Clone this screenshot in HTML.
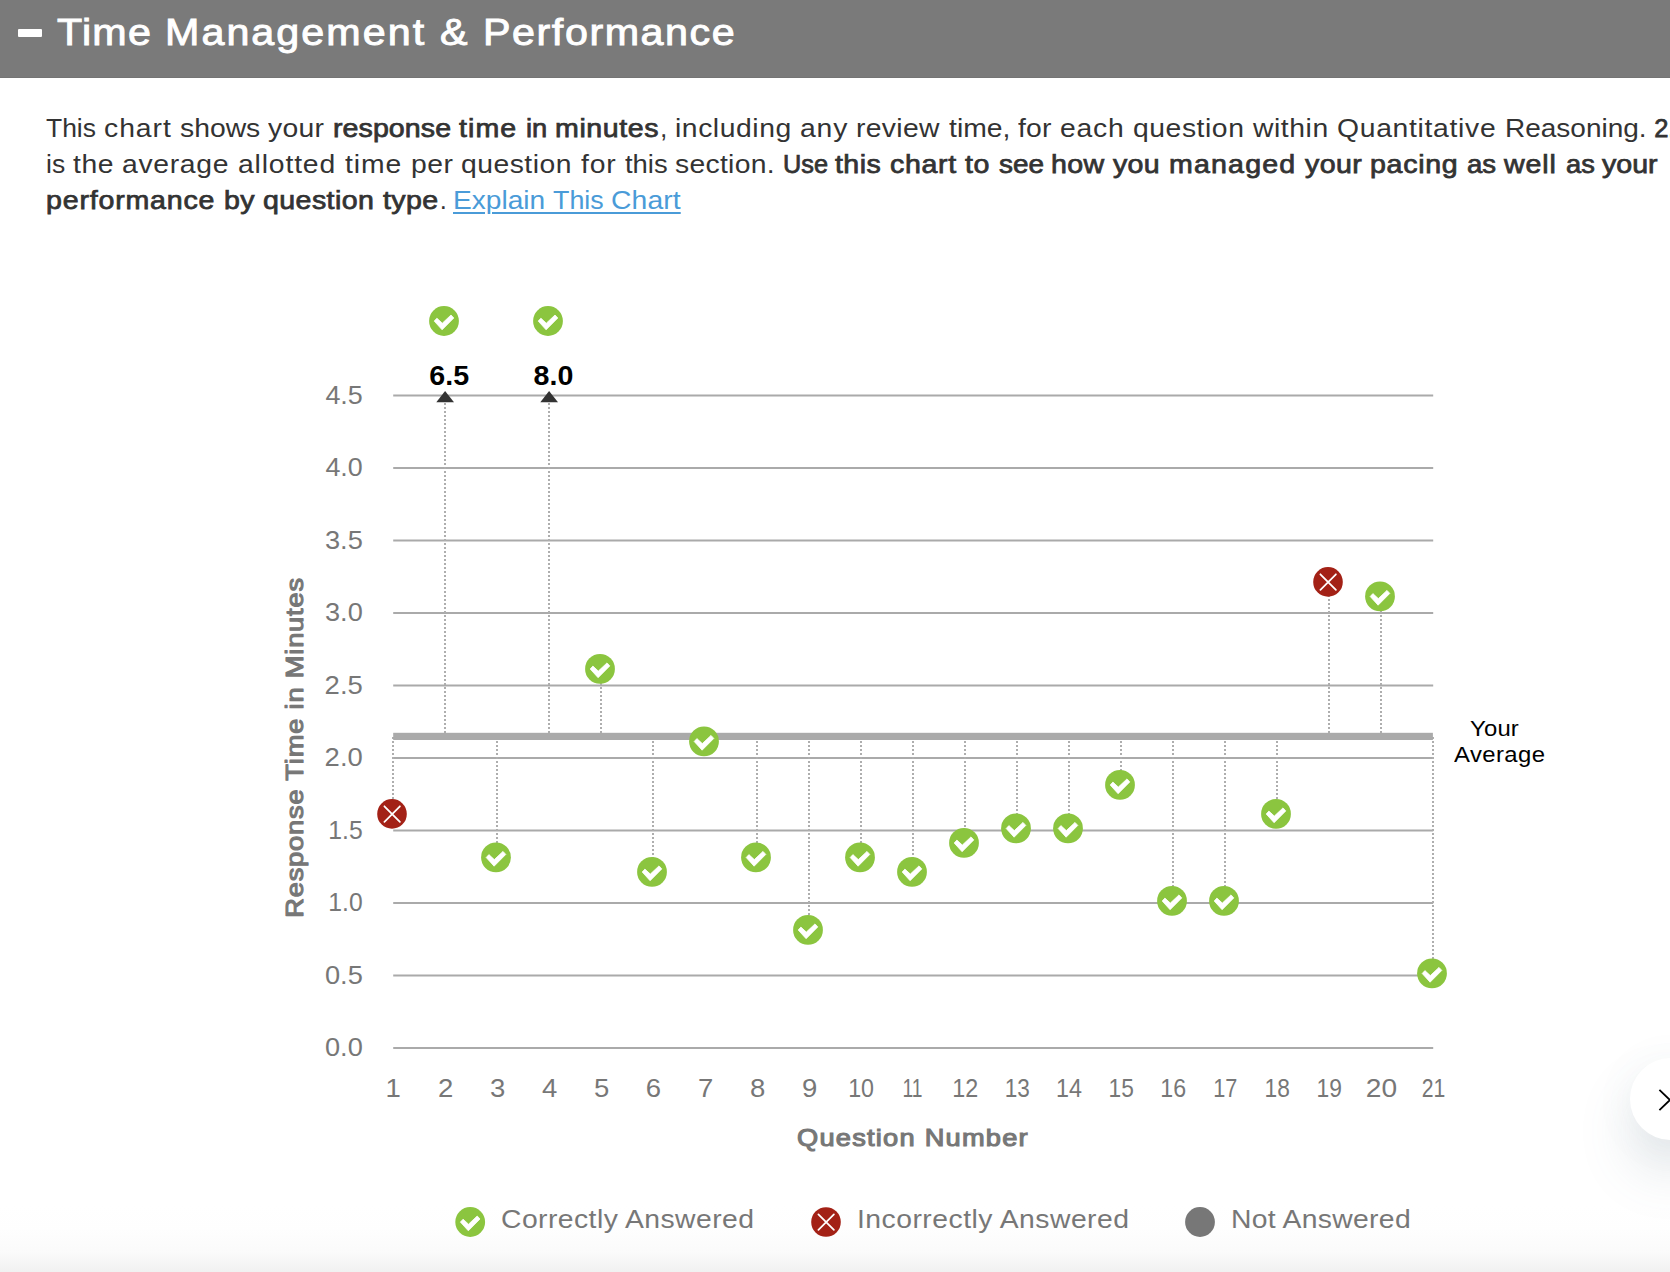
<!DOCTYPE html>
<html lang="en"><head><meta charset="utf-8"><title>Time Management &amp; Performance</title>
<style>
html,body{margin:0;padding:0;}
html{overflow:hidden;background:#fff;}
body{width:1670px;height:1272px;overflow:hidden;position:relative;background:#fff;font-family:"Liberation Sans",sans-serif;}
.hdr{position:absolute;left:0;top:0;width:1670px;height:78px;box-sizing:border-box;border-bottom:1px solid #747474;background:#7a7a7a;}
.minus{position:absolute;left:18px;top:29px;width:24px;height:8px;background:#fff;border-radius:1px;}
.t{position:absolute;white-space:pre;line-height:1;margin:0;transform-origin:0 0;font-weight:400;}
h1,p{margin:0;font-weight:400;}
.ti{font-size:36.5px;color:#fff;-webkit-text-stroke:0.9px #fff;}
.pw{font-size:25.5px;color:#333;}
.sb{-webkit-text-stroke:0.75px #333;}
.lk{color:#4a9bd8;text-decoration:underline;text-decoration-thickness:2px;text-underline-offset:3px;}
.lg{font-size:25.5px;color:#777;}
.fade{position:absolute;left:0;top:1204px;width:1670px;height:68px;background:linear-gradient(to bottom,rgba(241,241,241,0) 0%,rgba(241,241,241,0.06) 35%,rgba(241,241,241,0.32) 72%,rgba(241,241,241,1) 100%);}
.fab{position:absolute;left:1630px;top:1058px;width:82px;height:82px;border-radius:50%;background:#fff;box-shadow:0 32px 54px rgba(90,112,128,0.17),0 4px 44px rgba(90,112,128,0.06);}
svg{position:absolute;left:0;top:0;}
svg text{font-family:"Liberation Sans",sans-serif;}
</style></head><body>
<div class="fade"></div>
<div class="fab"></div>
<div class="hdr"><div class="minus"></div></div>
<h1><span class="t ti" style="left:57.3px;top:14.6px;letter-spacing:1.1px;transform:scaleX(1.1300);">Time </span><span class="t ti" style="left:165.1px;top:14.6px;letter-spacing:1.81px;transform:scaleX(1.1300);">Management </span><span class="t ti" style="left:439.8px;top:14.6px;letter-spacing:1.82px;transform:scaleX(1.1300);">&amp; </span><span class="t ti" style="left:482.9px;top:14.6px;letter-spacing:1.38px;transform:scaleX(1.1300);">Performance</span></h1>
<p><span class="t pw" style="left:46.3px;top:116.11px;transform:scaleX(1.0368);">This </span><span class="t pw" style="left:103.6px;top:116.11px;letter-spacing:0.89px;transform:scaleX(1.1100);">chart </span><span class="t pw" style="left:180.3px;top:116.11px;transform:scaleX(1.1099);">shows </span><span class="t pw" style="left:268.4px;top:116.11px;letter-spacing:0.26px;transform:scaleX(1.1100);">your </span><b class="t pw sb" style="left:332.8px;top:116.11px;letter-spacing:0.07px;transform:scaleX(1.1200);">response </b><b class="t pw sb" style="left:458.9px;top:116.11px;letter-spacing:0.95px;transform:scaleX(1.1200);">time </b><b class="t pw sb" style="left:526.1px;top:116.11px;transform:scaleX(1.0691);">in </b><b class="t pw sb" style="left:554.9px;top:116.11px;letter-spacing:0.53px;transform:scaleX(1.1200);">minutes</b><span class="t pw" style="left:659.8px;top:116.11px;transform:scaleX(1.0373);">, </span><span class="t pw" style="left:674.5px;top:116.11px;letter-spacing:0.5px;transform:scaleX(1.1100);">including </span><span class="t pw" style="left:799.6px;top:116.11px;letter-spacing:0.74px;transform:scaleX(1.1100);">any </span><span class="t pw" style="left:856.4px;top:116.11px;letter-spacing:0.31px;transform:scaleX(1.1100);">review </span><span class="t pw" style="left:948.5px;top:116.11px;letter-spacing:0.03px;transform:scaleX(1.1100);">time, </span><span class="t pw" style="left:1017.9px;top:116.11px;letter-spacing:0.23px;transform:scaleX(1.1100);">for </span><span class="t pw" style="left:1059.8px;top:116.11px;letter-spacing:0.71px;transform:scaleX(1.1100);">each </span><span class="t pw" style="left:1133px;top:116.11px;letter-spacing:0.5px;transform:scaleX(1.1100);">question </span><span class="t pw" style="left:1252.9px;top:116.11px;letter-spacing:0.5px;transform:scaleX(1.1100);">within </span><span class="t pw" style="left:1337px;top:116.11px;letter-spacing:0.62px;transform:scaleX(1.1100);">Quantitative </span><span class="t pw" style="left:1504.8px;top:116.11px;transform:scaleX(1.0978);">Reasoning. </span><b class="t pw sb" style="left:1654.2px;top:116.11px;">2.1</b><b class="t pw sb" style="left:1699.2px;top:116.11px;">minutes</b><span class="t pw" style="left:46.3px;top:151.81px;transform:scaleX(1.0392);">is </span><span class="t pw" style="left:72.8px;top:151.81px;letter-spacing:0.49px;transform:scaleX(1.1100);">the </span><span class="t pw" style="left:122.2px;top:151.81px;letter-spacing:0.63px;transform:scaleX(1.1100);">average </span><span class="t pw" style="left:238px;top:151.81px;letter-spacing:0.76px;transform:scaleX(1.1100);">allotted </span><span class="t pw" style="left:344.7px;top:151.81px;letter-spacing:0.84px;transform:scaleX(1.1100);">time </span><span class="t pw" style="left:410.7px;top:151.81px;letter-spacing:0.41px;transform:scaleX(1.1100);">per </span><span class="t pw" style="left:461.3px;top:151.81px;letter-spacing:0.44px;transform:scaleX(1.1100);">question </span><span class="t pw" style="left:580.6px;top:151.81px;letter-spacing:0.77px;transform:scaleX(1.1100);">for </span><span class="t pw" style="left:624.9px;top:151.81px;transform:scaleX(1.0752);">this </span><span class="t pw" style="left:675.2px;top:151.81px;letter-spacing:0.26px;transform:scaleX(1.1100);">section. </span><b class="t pw sb" style="left:783.2px;top:151.81px;transform:scaleX(0.9917);">Use </b><b class="t pw sb" style="left:835.2px;top:151.81px;letter-spacing:0.39px;transform:scaleX(1.1200);">this </b><b class="t pw sb" style="left:889.8px;top:151.81px;letter-spacing:0.59px;transform:scaleX(1.1200);">chart </b><b class="t pw sb" style="left:965.2px;top:151.81px;letter-spacing:0.49px;transform:scaleX(1.1200);">to </b><b class="t pw sb" style="left:998.6px;top:151.81px;transform:scaleX(1.0933);">see </b><b class="t pw sb" style="left:1051.3px;top:151.81px;letter-spacing:0.37px;transform:scaleX(1.1200);">how </b><b class="t pw sb" style="left:1113.3px;top:151.81px;letter-spacing:0.27px;transform:scaleX(1.1200);">you </b><b class="t pw sb" style="left:1168.5px;top:151.81px;letter-spacing:1.05px;transform:scaleX(1.1200);">managed </b><b class="t pw sb" style="left:1304.9px;top:151.81px;letter-spacing:0.34px;transform:scaleX(1.1200);">your </b><b class="t pw sb" style="left:1370.3px;top:151.81px;letter-spacing:0.64px;transform:scaleX(1.1200);">pacing </b><b class="t pw sb" style="left:1467.4px;top:151.81px;transform:scaleX(1.0814);">as </b><b class="t pw sb" style="left:1504.2px;top:151.81px;letter-spacing:0.8px;transform:scaleX(1.1200);">well </b><b class="t pw sb" style="left:1565.8px;top:151.81px;transform:scaleX(1.0696);">as </b><b class="t pw sb" style="left:1602.2px;top:151.81px;letter-spacing:0.01px;transform:scaleX(1.1200);">your</b><b class="t pw sb" style="left:46.3px;top:188.21px;letter-spacing:0.72px;transform:scaleX(1.1200);">performance </b><b class="t pw sb" style="left:224.2px;top:188.21px;letter-spacing:0.29px;transform:scaleX(1.1200);">by </b><b class="t pw sb" style="left:263.3px;top:188.21px;letter-spacing:0.37px;transform:scaleX(1.1200);">question </b><b class="t pw sb" style="left:383px;top:188.21px;letter-spacing:0.32px;transform:scaleX(1.1200);">type</b><span class="t pw" style="left:439.8px;top:188.21px;">.</span><a class="t pw lk" style="left:453px;top:188.21px;transform:scaleX(1.1021);">Explain </a><a class="t pw lk" style="left:553px;top:188.21px;transform:scaleX(1.0513);">This </a><a class="t pw lk" style="left:611.1px;top:188.21px;letter-spacing:0.09px;transform:scaleX(1.1100);">Chart</a></p>
<span class="t lg" style="left:500.5px;top:1207.11px;letter-spacing:0.4px;transform:scaleX(1.1100);">Correctly Answered</span>
<span class="t lg" style="left:856.5px;top:1207.11px;letter-spacing:0.44px;transform:scaleX(1.1100);">Incorrectly Answered</span>
<span class="t lg" style="left:1231px;top:1207.11px;letter-spacing:0.28px;transform:scaleX(1.1100);">Not Answered</span>
<span class="t" style="left:797px;top:1125.63px;letter-spacing:1.11px;transform:scaleX(1.1200);font-size:24.3px;color:#777;-webkit-text-stroke:1.1px #777;">Question Number</span>
<span class="t" style="left:1469.5px;top:718.5px;letter-spacing:0.17px;transform:scaleX(1.1100);font-size:21.5px;color:#000;">Your</span>
<span class="t" style="left:1454px;top:744.8px;letter-spacing:0.39px;transform:scaleX(1.1100);font-size:21.5px;color:#000;">Average</span>
<svg width="1670" height="1272" viewBox="0 0 1670 1272">
<defs><g id="ok"><circle r="14.9" fill="#8bc53f"/><path d="M-9.8,0.1 L-7.1,-2.8 L-1.7,2.2 L7,-6 L9.8,-3 L-1.9,8.8 Z" fill="#fff" stroke="#fff" stroke-width="0.8" stroke-linejoin="round"/></g><g id="no"><circle r="14.8" fill="#a32116"/><path d="M-7.6,-7.6 L7.9,7.9 M7.9,-7.6 L-7.6,7.9" stroke="#fff" stroke-width="1.75" stroke-linecap="round" fill="none"/></g></defs>
<line x1="393.2" x2="1433.2" y1="1047.9" y2="1047.9" stroke="#aaa" stroke-width="2"/>
<line x1="393.2" x2="1433.2" y1="975.4" y2="975.4" stroke="#aaa" stroke-width="2"/>
<line x1="393.2" x2="1433.2" y1="902.9" y2="902.9" stroke="#aaa" stroke-width="2"/>
<line x1="393.2" x2="1433.2" y1="830.4" y2="830.4" stroke="#aaa" stroke-width="2"/>
<line x1="393.2" x2="1433.2" y1="757.9" y2="757.9" stroke="#aaa" stroke-width="2"/>
<line x1="393.2" x2="1433.2" y1="685.4" y2="685.4" stroke="#aaa" stroke-width="2"/>
<line x1="393.2" x2="1433.2" y1="612.9" y2="612.9" stroke="#aaa" stroke-width="2"/>
<line x1="393.2" x2="1433.2" y1="540.4" y2="540.4" stroke="#aaa" stroke-width="2"/>
<line x1="393.2" x2="1433.2" y1="467.9" y2="467.9" stroke="#aaa" stroke-width="2"/>
<line x1="393.2" x2="1433.2" y1="395.4" y2="395.4" stroke="#aaa" stroke-width="2"/>
<text transform="translate(324.94,1056.10) scale(1.0465,1)" font-size="26" fill="#777">0.0</text>
<text transform="translate(324.93,983.60) scale(1.0489,1)" font-size="26" fill="#777">0.5</text>
<text transform="translate(328.32,911.10) scale(0.9503,1)" font-size="26" fill="#777">1.0</text>
<text transform="translate(328.31,838.60) scale(0.9525,1)" font-size="26" fill="#777">1.5</text>
<text transform="translate(324.62,766.10) scale(1.0556,1)" font-size="26" fill="#777">2.0</text>
<text transform="translate(324.62,693.60) scale(1.0580,1)" font-size="26" fill="#777">2.5</text>
<text transform="translate(324.96,621.10) scale(1.0458,1)" font-size="26" fill="#777">3.0</text>
<text transform="translate(324.96,548.60) scale(1.0481,1)" font-size="26" fill="#777">3.5</text>
<text transform="translate(325.38,476.10) scale(1.0338,1)" font-size="26" fill="#777">4.0</text>
<text transform="translate(325.38,403.60) scale(1.0361,1)" font-size="26" fill="#777">4.5</text>
<text transform="translate(385.52,1097.00) scale(1.0500,1)" font-size="26.2" fill="#777">1</text>
<text transform="translate(437.90,1097.00) scale(1.0500,1)" font-size="26.2" fill="#777">2</text>
<text transform="translate(489.98,1097.00) scale(1.0500,1)" font-size="26.2" fill="#777">3</text>
<text transform="translate(541.99,1097.00) scale(1.0500,1)" font-size="26.2" fill="#777">4</text>
<text transform="translate(593.93,1097.00) scale(1.0500,1)" font-size="26.2" fill="#777">5</text>
<text transform="translate(645.81,1097.00) scale(1.0500,1)" font-size="26.2" fill="#777">6</text>
<text transform="translate(697.89,1097.00) scale(1.0500,1)" font-size="26.2" fill="#777">7</text>
<text transform="translate(749.90,1097.00) scale(1.0500,1)" font-size="26.2" fill="#777">8</text>
<text transform="translate(801.91,1097.00) scale(1.0500,1)" font-size="26.2" fill="#777">9</text>
<text transform="translate(848.18,1097.00) scale(0.8881,1)" font-size="26.2" fill="#777">10</text>
<text transform="translate(902.58,1097.00) scale(0.7345,1)" font-size="26.2" fill="#777">11</text>
<text transform="translate(952.27,1097.00) scale(0.8905,1)" font-size="26.2" fill="#777">12</text>
<text transform="translate(1004.63,1097.00) scale(0.8617,1)" font-size="26.2" fill="#777">13</text>
<text transform="translate(1056.02,1097.00) scale(0.8909,1)" font-size="26.2" fill="#777">14</text>
<text transform="translate(1108.52,1097.00) scale(0.8677,1)" font-size="26.2" fill="#777">15</text>
<text transform="translate(1160.28,1097.00) scale(0.8848,1)" font-size="26.2" fill="#777">16</text>
<text transform="translate(1213.20,1097.00) scale(0.8285,1)" font-size="26.2" fill="#777">17</text>
<text transform="translate(1264.52,1097.00) scale(0.8690,1)" font-size="26.2" fill="#777">18</text>
<text transform="translate(1316.51,1097.00) scale(0.8724,1)" font-size="26.2" fill="#777">19</text>
<text transform="translate(1365.73,1097.00) scale(1.0746,1)" font-size="26.2" fill="#777">20</text>
<text transform="translate(1421.73,1097.00) scale(0.8099,1)" font-size="26.2" fill="#777">21</text>
<line x1="393.0" x2="393.0" y1="736.9" y2="813.9" stroke="#aeaeae" stroke-width="2" stroke-dasharray="2 2"/>
<line x1="445.0" x2="445.0" y1="736.9" y2="400.0" stroke="#aeaeae" stroke-width="2" stroke-dasharray="2 2"/>
<line x1="497.0" x2="497.0" y1="736.9" y2="857.4" stroke="#aeaeae" stroke-width="2" stroke-dasharray="2 2"/>
<line x1="549.0" x2="549.0" y1="736.9" y2="400.0" stroke="#aeaeae" stroke-width="2" stroke-dasharray="2 2"/>
<line x1="601.0" x2="601.0" y1="736.9" y2="668.9" stroke="#aeaeae" stroke-width="2" stroke-dasharray="2 2"/>
<line x1="653.0" x2="653.0" y1="736.9" y2="871.9" stroke="#aeaeae" stroke-width="2" stroke-dasharray="2 2"/>
<line x1="705.0" x2="705.0" y1="736.9" y2="741.4" stroke="#aeaeae" stroke-width="2" stroke-dasharray="2 2"/>
<line x1="757.0" x2="757.0" y1="736.9" y2="857.4" stroke="#aeaeae" stroke-width="2" stroke-dasharray="2 2"/>
<line x1="809.0" x2="809.0" y1="736.9" y2="929.9" stroke="#aeaeae" stroke-width="2" stroke-dasharray="2 2"/>
<line x1="861.0" x2="861.0" y1="736.9" y2="857.4" stroke="#aeaeae" stroke-width="2" stroke-dasharray="2 2"/>
<line x1="913.0" x2="913.0" y1="736.9" y2="871.9" stroke="#aeaeae" stroke-width="2" stroke-dasharray="2 2"/>
<line x1="965.0" x2="965.0" y1="736.9" y2="842.9" stroke="#aeaeae" stroke-width="2" stroke-dasharray="2 2"/>
<line x1="1017.0" x2="1017.0" y1="736.9" y2="828.4" stroke="#aeaeae" stroke-width="2" stroke-dasharray="2 2"/>
<line x1="1069.0" x2="1069.0" y1="736.9" y2="828.4" stroke="#aeaeae" stroke-width="2" stroke-dasharray="2 2"/>
<line x1="1121.0" x2="1121.0" y1="736.9" y2="784.9" stroke="#aeaeae" stroke-width="2" stroke-dasharray="2 2"/>
<line x1="1173.0" x2="1173.0" y1="736.9" y2="900.9" stroke="#aeaeae" stroke-width="2" stroke-dasharray="2 2"/>
<line x1="1225.0" x2="1225.0" y1="736.9" y2="900.9" stroke="#aeaeae" stroke-width="2" stroke-dasharray="2 2"/>
<line x1="1277.0" x2="1277.0" y1="736.9" y2="813.9" stroke="#aeaeae" stroke-width="2" stroke-dasharray="2 2"/>
<line x1="1329.0" x2="1329.0" y1="736.9" y2="581.9" stroke="#aeaeae" stroke-width="2" stroke-dasharray="2 2"/>
<line x1="1381.0" x2="1381.0" y1="736.9" y2="596.4" stroke="#aeaeae" stroke-width="2" stroke-dasharray="2 2"/>
<line x1="1433.0" x2="1433.0" y1="736.9" y2="973.4" stroke="#aeaeae" stroke-width="2" stroke-dasharray="2 2"/>
<rect x="393.2" y="732.8" width="1039.7" height="7.2" fill="#aaa"/>
<path d="M445.1,391 L454.0,402.2 L436.3,402.2 Z" fill="#333"/>
<text transform="translate(429.25,384.80) scale(1.0696,1)" font-size="26.8" font-weight="700" fill="#000">6.5</text>
<use href="#ok" x="444.0" y="321"/>
<path d="M549.1,391 L558.0,402.2 L540.3,402.2 Z" fill="#333"/>
<text transform="translate(533.59,384.80) scale(1.0678,1)" font-size="26.8" font-weight="700" fill="#000">8.0</text>
<use href="#ok" x="548.0" y="321"/>
<use href="#no" x="392.0" y="813.9"/>
<use href="#ok" x="496.0" y="857.4"/>
<use href="#ok" x="600.0" y="668.9"/>
<use href="#ok" x="652.0" y="871.9"/>
<use href="#ok" x="704.0" y="741.4"/>
<use href="#ok" x="756.0" y="857.4"/>
<use href="#ok" x="808.0" y="929.9"/>
<use href="#ok" x="860.0" y="857.4"/>
<use href="#ok" x="912.0" y="871.9"/>
<use href="#ok" x="964.0" y="842.9"/>
<use href="#ok" x="1016.0" y="828.4"/>
<use href="#ok" x="1068.0" y="828.4"/>
<use href="#ok" x="1120.0" y="784.9"/>
<use href="#ok" x="1172.0" y="900.9"/>
<use href="#ok" x="1224.0" y="900.9"/>
<use href="#ok" x="1276.0" y="813.9"/>
<use href="#no" x="1328.0" y="581.9"/>
<use href="#ok" x="1380.0" y="596.4"/>
<use href="#ok" x="1432.0" y="973.4"/>
<text transform="translate(302.8,915.6) rotate(-90) scale(1.1200,1)" x="-2.00" y="0" font-size="24.4" fill="#777" stroke="#777" stroke-width="1.1" stroke-linejoin="round" letter-spacing="0.703">Response Time in Minutes</text>
<use href="#ok" x="470.2" y="1222"/>
<use href="#no" x="826" y="1222"/>
<circle cx="1200" cy="1222" r="14.9" fill="#777"/>
<path d="M1659.4,1089.8 L1670,1100 L1659.4,1110.2" stroke="#000" stroke-width="1.8" fill="none"/>
</svg>
</body></html>
